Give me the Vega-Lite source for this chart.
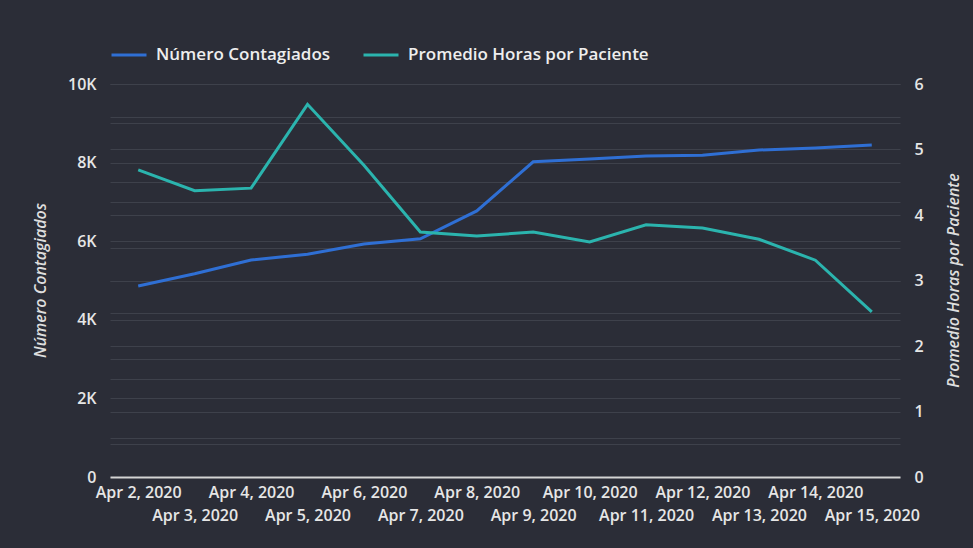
{
  "$schema": "https://vega.github.io/schema/vega-lite/v6.json",
  "autosize": {"type": "none"},
  "width": 790,
  "height": 393,
  "padding": {"left": 110, "top": 84, "right": 73, "bottom": 71},
  "background": "#2b2d37",
  "config": {
    "view": {"stroke": null},
    "font": "Open Sans",
    "axis": {
      "labelFont": "Open Sans",
      "labelFontWeight": 600,
      "labelFontSize": 16,
      "labelColor": "#e6e6e6",
      "titleFont": "Open Sans",
      "titleFontWeight": 600,
      "titleFontStyle": "italic",
      "titleFontSize": 16,
      "titleColor": "#dedede",
      "ticks": false,
      "gridColor": "#3e414b",
      "gridWidth": 1
    },
    "legend": {
      "labelFont": "Open Sans",
      "labelFontWeight": 600,
      "labelFontSize": 17,
      "labelColor": "#eeeeee",
      "labelLimit": 400
    }
  },
  "data": {
    "values": [
      {"fecha": "Apr 2, 2020", "contagiados": 4860, "horas": 4.69},
      {"fecha": "Apr 3, 2020", "contagiados": 5170, "horas": 4.37},
      {"fecha": "Apr 4, 2020", "contagiados": 5520, "horas": 4.41},
      {"fecha": "Apr 5, 2020", "contagiados": 5670, "horas": 5.69},
      {"fecha": "Apr 6, 2020", "contagiados": 5930, "horas": 4.76},
      {"fecha": "Apr 7, 2020", "contagiados": 6060, "horas": 3.74},
      {"fecha": "Apr 8, 2020", "contagiados": 6770, "horas": 3.68},
      {"fecha": "Apr 9, 2020", "contagiados": 8020, "horas": 3.74},
      {"fecha": "Apr 10, 2020", "contagiados": 8090, "horas": 3.59},
      {"fecha": "Apr 11, 2020", "contagiados": 8170, "horas": 3.85},
      {"fecha": "Apr 12, 2020", "contagiados": 8190, "horas": 3.80},
      {"fecha": "Apr 13, 2020", "contagiados": 8320, "horas": 3.63},
      {"fecha": "Apr 14, 2020", "contagiados": 8370, "horas": 3.31},
      {"fecha": "Apr 15, 2020", "contagiados": 8450, "horas": 2.52}
    ]
  },
  "encoding": {
    "x": {
      "field": "fecha",
      "type": "ordinal",
      "sort": null,
      "scale": {"type": "point", "padding": 0.5},
      "axis": {
        "title": null,
        "labelAngle": 0,
        "labelPadding": 7,
        "labelBaseline": "top",
        "labelLineHeight": 23,
        "labelOverlap": false,
        "grid": false,
        "domain": true,
        "domainColor": "#d4d4d4",
        "domainWidth": 2,
        "labelExpr": "round(datum.index * 13) % 2 == 1 ? ['', datum.label] : datum.label"
      }
    }
  },
  "layer": [
    {
      "mark": {"type": "line", "strokeWidth": 3},
      "encoding": {
        "y": {
          "field": "contagiados",
          "type": "quantitative",
          "scale": {"domain": [0, 10000], "nice": false},
          "axis": {
            "orient": "left",
            "title": "Número Contagiados",
            "values": [0, 1000, 2000, 3000, 4000, 5000, 6000, 7000, 8000, 9000, 10000],
            "labelExpr": "datum.value % 2000 == 0 ? (datum.value == 0 ? '0' : (datum.value / 1000) + 'K') : ''",
            "labelPadding": 14,
            "domain": false,
            "grid": true,
            "titleX": -70,
            "titleY": 196,
            "titleAlign": "center",
            "titleBaseline": "middle"
          }
        },
        "color": {
          "datum": "Número Contagiados",
          "type": "nominal",
          "scale": {
            "domain": ["Número Contagiados", "Promedio Horas por Paciente"],
            "range": ["#2f6fd4", "#2bb4ae"]
          },
          "legend": {
            "title": null,
            "orient": "none",
            "direction": "horizontal",
            "legendX": 0,
            "legendY": -48,
            "symbolType": "stroke",
            "symbolSize": 1225,
            "symbolStrokeWidth": 3,
            "labelOffset": 8,
            "columnPadding": 26
          }
        }
      }
    },
    {
      "mark": {"type": "line", "strokeWidth": 3},
      "encoding": {
        "y": {
          "field": "horas",
          "type": "quantitative",
          "scale": {"domain": [0, 6], "nice": false},
          "axis": {
            "orient": "right",
            "title": "Promedio Horas por Paciente",
            "values": [0, 0.5, 1, 1.5, 2, 2.5, 3, 3.5, 4, 4.5, 5, 5.5, 6],
            "labelExpr": "datum.value % 1 == 0 ? format(datum.value, 'd') : ''",
            "labelPadding": 14,
            "domain": false,
            "grid": true,
            "titleX": 53,
            "titleY": 196,
            "titleAlign": "center",
            "titleBaseline": "middle",
            "titleAngle": -90
          }
        },
        "color": {"datum": "Promedio Horas por Paciente", "type": "nominal"}
      }
    }
  ],
  "resolve": {"scale": {"y": "independent"}}
}
